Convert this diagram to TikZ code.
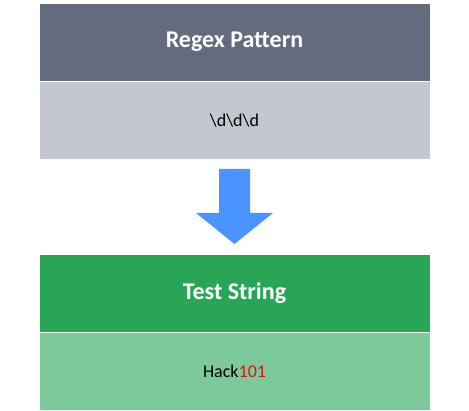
\documentclass[tikz,border=0pt]{standalone}
\usepackage{fontspec}
\setmainfont{Carlito}
\usetikzlibrary{positioning}

\definecolor{patternhead}{HTML}{636B7F}
\definecolor{patternbody}{HTML}{C3C7D0}
\definecolor{stringhead}{HTML}{28A655}
\definecolor{stringbody}{HTML}{7DC99A}
\definecolor{arrowblue}{HTML}{4A94FF}
\definecolor{matchred}{HTML}{E01010}

\tikzset{
  headbox/.style={rectangle,draw=white,line width=0.6pt,minimum width=391pt,minimum height=78pt,
    inner sep=0pt,text=white,font=\fontsize{24}{28}\selectfont\bfseries},
  bodybox/.style={rectangle,draw=white,line width=0.6pt,minimum width=391pt,minimum height=78pt,
    inner sep=0pt,text=black,font=\fontsize{18}{22}\selectfont}
}

\begin{document}
\begin{tikzpicture}[x=1pt,y=-1pt]
  \useasboundingbox (0,0) rectangle (469,411);
  \node[headbox,fill=patternhead] (pattern) at (234.5,42) {Regex Pattern};
  \node[bodybox,fill=patternbody,below=0pt of pattern] (patternval) {\textbackslash d\textbackslash d\textbackslash d};

  \node[headbox,fill=stringhead] (teststr) at (234.5,293) {Test String};
  \node[bodybox,fill=stringbody,below=0pt of teststr] (teststrval) {Hack\textcolor{matchred}{101}};

  % block arrow between the two boxes
  \fill[arrowblue] (219,169) -- (250,169) -- (250,213) -- (273,213) -- (234.5,244)
    -- (196,213) -- (219,213) -- cycle;
\end{tikzpicture}
\end{document}
